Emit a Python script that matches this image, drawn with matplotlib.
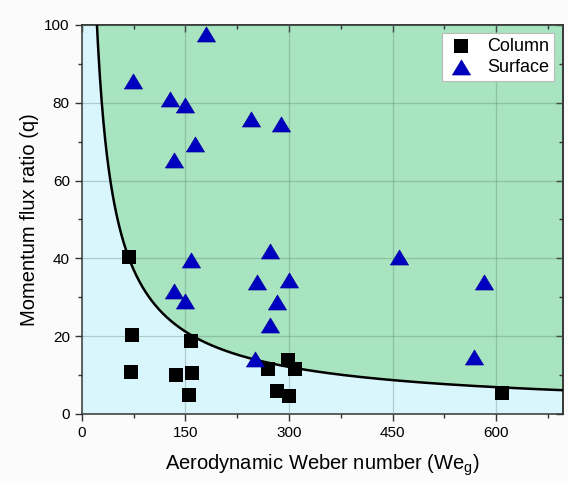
import numpy as np
import matplotlib.pyplot as plt

plt.rcParams["font.family"] = ["Liberation Sans", "DejaVu Sans"]

# Column breakup points (We_g, q)
column_we = [68, 73, 71, 137, 158, 160, 155, 270, 298, 309, 283, 300, 608]
column_q = [40.4, 20.3, 10.7, 9.9, 18.8, 10.6, 4.9, 11.6, 13.9, 11.6, 5.9, 4.5, 5.3]

# Surface breakup points (We_g, q)
surface_we = [74, 128, 150, 180, 164, 133, 245, 289, 272, 158, 459,
              253, 300, 582, 133, 150, 282, 273, 251, 568]
surface_q = [85.6, 81.0, 79.5, 97.7, 69.4, 65.3, 75.8, 74.6, 41.9, 39.6, 40.3,
             33.9, 34.4, 34.0, 31.7, 29.1, 28.8, 23.0, 14.1, 14.6]

# Transition boundary q = C * We^-n
BOUNDARY_C = 1227.0
BOUNDARY_N = 0.81

XMAX = 697
YMAX = 100
XTICKS = [0, 150, 300, 450, 600]
XMINOR = [75, 225, 375, 525, 675]
YTICKS = [0, 20, 40, 60, 80, 100]
YMINOR = [10, 30, 50, 70, 90]

# wide, flat triangle marker
TRIANGLE = [(-1, -0.83), (1, -0.83), (0, 0.83), (-1, -0.83)]

fig = plt.figure(figsize=(5.68, 4.83), dpi=100, facecolor="#fbfbfb")
ax = fig.add_axes([0.1438, 0.1429, 0.848, 0.8054])
ax.set_facecolor("#d9f6fd")

we = np.linspace(2, XMAX, 800)
q_line = BOUNDARY_C * we ** (-BOUNDARY_N)
ax.fill_between(we, q_line, 1000, color="#a8e4c0", lw=0, zorder=0)
ax.plot(we, q_line, color="black", lw=1.8, zorder=3)

ax.grid(True, which="major", color="#5f7f6a", alpha=0.35, lw=0.9, zorder=1)
ax.set_axisbelow(False)

ax.scatter(column_we, column_q, marker="s", s=9.5 ** 2, color="black",
           lw=0, label="Column", zorder=4)
ax.scatter(surface_we, surface_q, marker=TRIANGLE, s=13 ** 2, color="#0000c0",
           edgecolor="#0000a0", lw=0.5, label="Surface", zorder=4)

ax.set_xlim(0, XMAX)
ax.set_ylim(0, YMAX)
ax.set_xticks(XTICKS)
ax.set_xticks(XMINOR, minor=True)
ax.set_yticks(YTICKS)
ax.set_yticks(YMINOR, minor=True)

ax.tick_params(which="both", direction="out", top=False, right=False,
               labelsize=11, color="#333333", width=1)
ax.tick_params(which="major", length=5)
ax.tick_params(which="minor", length=3)

# mirrored inward ticks on top and right
sec_x = ax.secondary_xaxis("top")
sec_x.set_xticks(XTICKS)
sec_x.set_xticks(XMINOR, minor=True)
sec_y = ax.secondary_yaxis("right")
sec_y.set_yticks(YTICKS)
sec_y.set_yticks(YMINOR, minor=True)
for sec in (sec_x, sec_y):
    sec.tick_params(which="both", direction="in", labeltop=False,
                    labelright=False, color="#333333", width=1)
    sec.tick_params(which="major", length=5)
    sec.tick_params(which="minor", length=3)
for s in list(ax.spines.values()) + [sec_x.spines["top"], sec_y.spines["right"]]:
    s.set_color("#333333")
    s.set_linewidth(1.1)

ax.set_xlabel("Aerodynamic Weber number (We$_\\mathregular{g}$)", fontsize=14.5, labelpad=9)
ax.set_ylabel("Momentum flux ratio (q)", fontsize=14.5, labelpad=4)

leg = ax.legend(loc="upper right", fontsize=13, frameon=True, fancybox=False,
                borderpad=0.3, handletextpad=0.6, labelspacing=0.2,
                handlelength=1.6, borderaxespad=0,
                bbox_to_anchor=(0.981, 0.980))
leg.get_frame().set_edgecolor("#bbbbbb")
leg.get_frame().set_linewidth(0.8)
leg.get_frame().set_alpha(1)

fig.savefig("out.png", dpi=100, facecolor=fig.get_facecolor())
